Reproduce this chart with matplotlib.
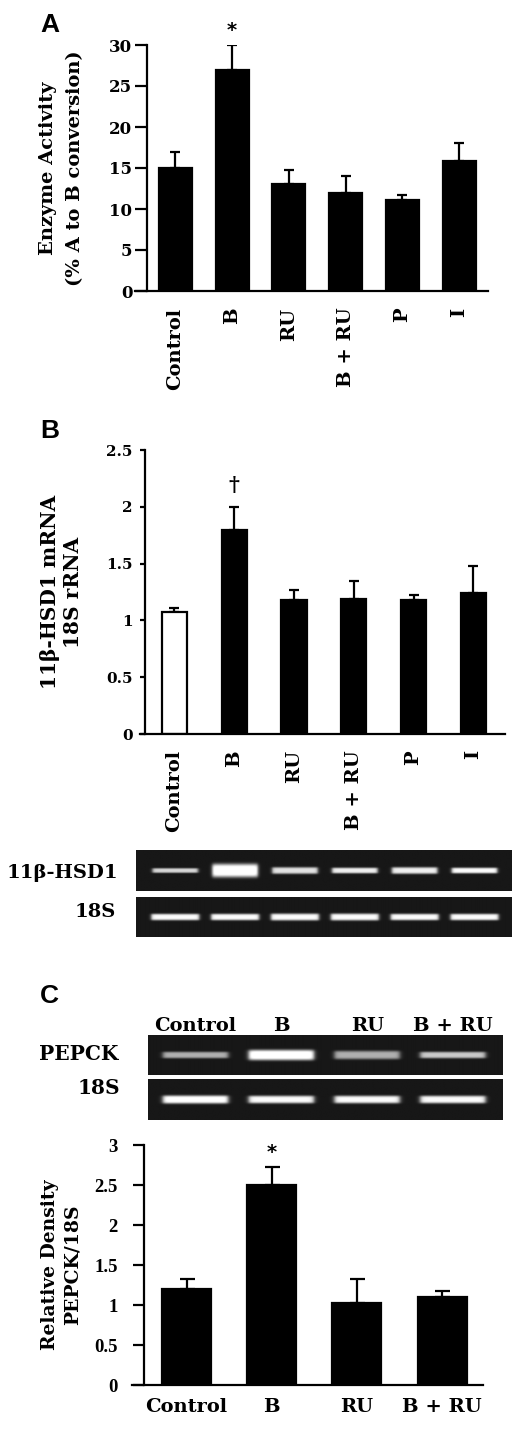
import numpy as np
import matplotlib
matplotlib.use("Agg")
import matplotlib.pyplot as plt

# ---------------- data ----------------
cats_a = ["Control", "B", "RU", "B + RU", "P", "I"]
vals_a = [15.0, 27.0, 13.0, 12.0, 11.1, 15.9]
err_a = [2.0, 3.0, 1.8, 2.0, 0.6, 2.2]
yticks_a = [0, 5, 10, 15, 20, 25, 30]

cats_b = ["Control", "B", "RU", "B + RU", "P", "I"]
vals_b = [1.07, 1.80, 1.18, 1.19, 1.18, 1.24]
err_b = [0.04, 0.20, 0.09, 0.16, 0.04, 0.24]
yticks_b = [0, 0.5, 1, 1.5, 2, 2.5]
yticklabels_b = ["0", "0.5", "1", "1.5", "2", "2.5"]
colors_b = ["white", "black", "black", "black", "black", "black"]

cats_c = ["Control", "B", "RU", "B + RU"]
vals_c = [1.20, 2.50, 1.02, 1.10]
err_c = [0.12, 0.23, 0.30, 0.07]
yticks_c = [0, 0.5, 1, 1.5, 2, 2.5, 3]
yticklabels_c = ["0", "0.5", "1", "1.5", "2", "2.5", "3"]

# gel band intensities / thickness (relative)
gel_b_hsd_int = [0.75, 1.0, 0.8, 0.85, 0.85, 0.9]
gel_b_hsd_thk = [0.10, 0.28, 0.14, 0.12, 0.14, 0.12]
gel_b_18s_int = [0.9, 0.9, 0.9, 0.9, 0.9, 0.9]
gel_b_18s_thk = [0.14, 0.14, 0.15, 0.15, 0.14, 0.14]
gel_c_pep_int = [0.6, 1.0, 0.6, 0.7]
gel_c_pep_thk = [0.14, 0.22, 0.18, 0.14]
gel_c_18s_int = [0.95, 0.9, 0.9, 0.9]
gel_c_18s_thk = [0.17, 0.16, 0.16, 0.16]

W, H = 520, 1433
fig = plt.figure(figsize=(W / 100, H / 100), dpi=100)
fig.patch.set_facecolor("white")

SERIF = "DejaVu Serif"
SANS = "Liberation Sans"


def px_axes(left, top, right, bottom):
    return fig.add_axes([left / W, 1 - bottom / H, (right - left) / W, (bottom - top) / H])


def fy(y):
    return 1 - y / H


def fx(x):
    return x / W


def bar_panel(ax, cats, vals, errs, xlim, spine_x, ylim, yticks, yticklabels,
              width, colors, capsize, tick_len, tick_pad, ytick_font, xl_rot, xl_pad, xl_size,
              ytick_size):
    x = np.arange(len(cats))
    ax.bar(x, vals, width=width, color=colors, edgecolor="black", linewidth=1.6, zorder=2)
    ax.errorbar(x, vals, yerr=[np.zeros(len(errs)), errs], fmt="none", ecolor="black",
                elinewidth=1.6, capsize=capsize, capthick=1.6, zorder=1)
    ax.set_xlim(*xlim)
    ax.set_ylim(*ylim)
    for s in ["top", "right"]:
        ax.spines[s].set_visible(False)
    ax.spines["left"].set_position(("data", spine_x))
    ax.spines["left"].set_linewidth(1.6)
    ax.spines["bottom"].set_linewidth(1.6)
    ax.set_yticks(yticks)
    ax.set_yticklabels(yticklabels, fontfamily=ytick_font, fontweight="bold", fontsize=ytick_size)
    ax.tick_params(axis="y", length=tick_len, width=1.6, pad=tick_pad, direction="out")
    ax.set_xticks(x)
    ax.set_xticklabels(cats, rotation=xl_rot, fontfamily=SERIF, fontweight="bold",
                       fontsize=xl_size, va="top", ha="center")
    ax.tick_params(axis="x", length=0, pad=xl_pad)
    ax.patch.set_visible(False)


# ---------------- Panel A ----------------
axA = px_axes(135, 45, 488, 291)
bar_panel(axA, cats_a, vals_a, err_a, (-0.714, 5.51), -0.503, (0, 30), yticks_a,
          [str(t) for t in yticks_a], 0.58, "black", 3.4, 8.5, 2, SERIF, 90, 12, 14, 12)
axA.text(1, vals_a[1] + err_a[1] + 0.6, "*", ha="center", va="bottom", fontsize=14,
         fontweight="bold", fontfamily="DejaVu Sans", clip_on=False)
fig.text(fx(48), fy(168), "Enzyme Activity", rotation=90, ha="center", va="center",
         fontfamily=SERIF, fontweight="bold", fontsize=14)
fig.text(fx(75), fy(168), "(% A to B conversion)", rotation=90, ha="center", va="center",
         fontfamily=SERIF, fontweight="bold", fontsize=14)
fig.text(fx(40), fy(32), "A", fontfamily=SANS, fontweight="bold", fontsize=19, ha="left", va="baseline")

# ---------------- Panel B ----------------
axB = px_axes(140, 450, 505, 734)
bar_panel(axB, cats_b, vals_b, err_b, (-0.577, 5.53), -0.493, (0, 2.5), yticks_b,
          yticklabels_b, 0.42, colors_b, 3.6, 3.6, 5.5, SERIF, 90, 11.5, 14, 11)
axB.text(1, vals_b[1] + err_b[1] + 0.1, "\u2020", ha="center", va="bottom", fontsize=15,
         fontweight="bold", fontfamily=SERIF, clip_on=False)
fig.text(fx(50), fy(592), "11\u03b2-HSD1 mRNA", rotation=90, ha="center", va="center",
         fontfamily=SERIF, fontweight="bold", fontsize=14.5)
fig.text(fx(73), fy(592), "18S rRNA", rotation=90, ha="center", va="center",
         fontfamily=SERIF, fontweight="bold", fontsize=14.5)
fig.text(fx(40), fy(438), "B", fontfamily=SANS, fontweight="bold", fontsize=19, ha="left", va="baseline")


def draw_gel(ax, intens, thick, xlim, halfw=0.38):
    nx, ny = 500, 80
    xs = np.linspace(xlim[0], xlim[1], nx)
    ys = np.linspace(-1, 1, ny)
    X, Y = np.meshgrid(xs, ys)
    img = np.full_like(X, 0.09)
    for i, (a, t) in enumerate(zip(intens, thick)):
        hx = 1 / (1 + np.exp(-(X - (i - halfw)) / 0.015)) * 1 / (1 + np.exp((X - (i + halfw)) / 0.015))
        vy = np.exp(-0.5 * (Y / t) ** 4)
        img += a * hx * vy
    img = np.clip(img, 0, 1)
    ax.imshow(img, cmap="gray", vmin=0, vmax=1, extent=[xlim[0], xlim[1], -1, 1],
              aspect="auto", origin="lower", interpolation="bilinear")
    ax.set_xlim(*xlim)
    ax.set_ylim(-1, 1)
    ax.set_xticks([])
    ax.set_yticks([])
    for s in ax.spines.values():
        s.set_visible(False)


gxl_b = (-0.65, 5.62)
g1 = px_axes(136, 850, 512, 891)
draw_gel(g1, gel_b_hsd_int, gel_b_hsd_thk, gxl_b)
g2 = px_axes(136, 897, 512, 937)
draw_gel(g2, gel_b_18s_int, gel_b_18s_thk, gxl_b, halfw=0.40)
fig.text(fx(118), fy(873), "11\u03b2-HSD1", ha="right", va="center", fontfamily=SERIF,
         fontweight="bold", fontsize=14)
fig.text(fx(116), fy(912), "18S", ha="right", va="center", fontfamily=SERIF,
         fontweight="bold", fontsize=14)

# ---------------- Panel C ----------------
fig.text(fx(40), fy(1003), "C", fontfamily=SANS, fontweight="bold", fontsize=19, ha="left", va="baseline")
gxl_c = (-0.55, 3.58)
g3 = px_axes(148, 1035, 503, 1075)
draw_gel(g3, gel_c_pep_int, gel_c_pep_thk, gxl_c)
g4 = px_axes(148, 1079, 503, 1120)
draw_gel(g4, gel_c_18s_int, gel_c_18s_thk, gxl_c)
for i, c in enumerate(cats_c):
    g3.text(i, 1.0, c, transform=g3.transData, ha="center", va="bottom",
            fontfamily=SERIF, fontweight="bold", fontsize=14, clip_on=False)
fig.text(fx(118), fy(1054), "PEPCK", ha="right", va="center", fontfamily=SERIF,
         fontweight="bold", fontsize=14.5)
fig.text(fx(120), fy(1088), "18S", ha="right", va="center", fontfamily=SERIF,
         fontweight="bold", fontsize=14.5)

axC = px_axes(132, 1145, 483, 1385)
bar_panel(axC, cats_c, vals_c, err_c, (-0.64, 3.48), -0.499, (0, 3), yticks_c,
          yticklabels_c, 0.575, "black", 5.4, 8, 11, "Liberation Serif", 0, 9, 14, 13.5)
axC.text(1, vals_c[1] + err_c[1] + 0.06, "*", ha="center", va="bottom", fontsize=14,
         fontweight="bold", fontfamily="DejaVu Sans", clip_on=False)
fig.text(fx(50), fy(1265), "Relative Density", rotation=90, ha="center", va="center",
         fontfamily=SERIF, fontweight="bold", fontsize=13.5)
fig.text(fx(73), fy(1265), "PEPCK/18S", rotation=90, ha="center", va="center",
         fontfamily=SERIF, fontweight="bold", fontsize=13.5)

fig.savefig("out.png", dpi=100, facecolor="white")
